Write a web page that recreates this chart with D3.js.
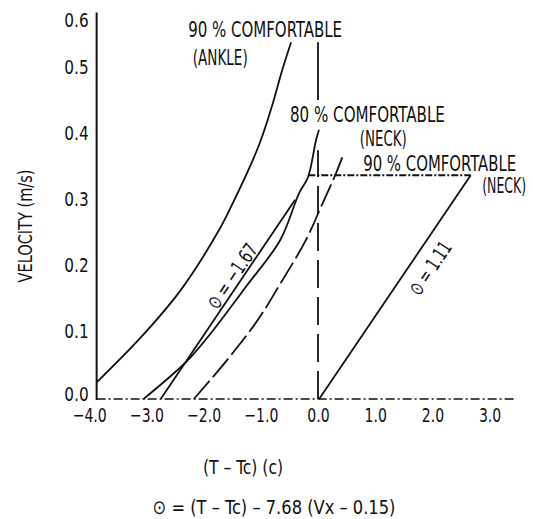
<!DOCTYPE html>
<html lang="en">
<head>
<meta charset="utf-8">
<title>Comfort Zone - Velocity vs Temperature</title>
<script src="https://d3js.org/d3.v7.min.js"></script>
<style>
  body {
    margin: 0;
    background: #fff;
  }
  svg text {
    font-family: "Liberation Sans Narrow", "DejaVu Sans Condensed", "Roboto Condensed", sans-serif;
    fill: #111;
  }
  .curve {
    fill: none;
    stroke: #111;
    stroke-width: 1.8;
  }
</style>
</head>
<body>
<div id="chart"></div>
<script>
// tick values
var xTicks = [-4, -3, -2, -1, 0, 1, 2, 3];
var yTicks = [0, 0.1, 0.2, 0.3, 0.4, 0.5, 0.6];

// curves, [T - Tc, velocity]
var ankle90 = [[-3.86, 0.026], [-3.09, 0.094], [-2.40, 0.165], [-1.73, 0.256], [-1.50, 0.295],
               [-1.14, 0.362], [-1.00, 0.392], [-0.80, 0.445], [-0.62, 0.500], [-0.47, 0.557]];
var neck80 = [[-3.05, 0.0], [-2.52, 0.039], [-2.22, 0.064], [-1.87, 0.100], [-1.26, 0.170],
              [-0.66, 0.241], [-0.33, 0.312], [-0.175, 0.336], [-0.035, 0.392], [0.017, 0.408]];
var neck90 = [[-2.17, 0.0], [-1.59, 0.059], [-1.05, 0.120], [-0.65, 0.176], [-0.21, 0.241],
              [0.052, 0.291], [0.315, 0.342], [0.455, 0.373]];
var thetaLow = [[-2.75, 0.0], [-0.40, 0.302]];    // theta = -1.67
var thetaHigh = [[0.02, 0.0], [2.67, 0.339]];     // theta = 1.11
var topLimit = [[-0.17, 0.339], [2.67, 0.339]];
var zeroLine = [[0, 0.0], [0, 0.377]];
var zeroLineTop = [[0, 0.453], [0, 0.557]];

var width = 533, height = 519;
var xMin = -3.87, xMax = 3.44, yTop = 0.62;

var svg = d3.select("#chart").append("svg")
  .attr("width", width)
  .attr("height", height);

var x = d3.scaleLinear()
  .domain([-4, 3.5])
  .range([89.2, 518.2]);

// the scan squeezes the 0.5 - 0.6 interval
var y = d3.scaleLinear()
  .domain([0, 0.5, 0.6])
  .range([399, 69, 22]);

var line = d3.line()
  .x(function(d) { return x(d[0]); })
  .y(function(d) { return y(d[1]); });

var smooth = d3.line()
  .curve(d3.curveCatmullRom)
  .x(function(d) { return x(d[0]); })
  .y(function(d) { return y(d[1]); });

// squeeze text to look like the condensed lettering of the scan
function condense(sel, k) {
  sel.each(function() {
    var w = this.getComputedTextLength();
    d3.select(this).attr("textLength", w * k).attr("lengthAdjust", "spacingAndGlyphs");
  });
}
// place a text at px,py (optionally rotated) and squeeze it to width w
function placeText(txt, px, py, w, size, anchor, angle) {
  var el = svg.append("text")
    .attr("text-anchor", anchor || "start")
    .style("font-size", size + "px")
    .text(txt);
  if (angle) el.attr("dy", "0.35em");
  var k = w / el.node().getComputedTextLength();
  el.attr("transform", "translate(" + px + "," + py + ")" +
    (angle ? " rotate(" + angle + ")" : "") + " scale(" + k + ",1)");
  return el;
}

// axes
var xAxis = svg.append("g")
  .attr("transform", "translate(0," + y(0) + ")")
  .call(d3.axisBottom(x).tickValues(xTicks).tickSize(0).tickPadding(9).tickFormat(d3.format(".1f")));
xAxis.select(".domain").remove();
xAxis.selectAll("text").style("font-size", "20px");
condense(xAxis.selectAll("text"), 0.78);

var yAxis = svg.append("g")
  .attr("transform", "translate(" + x(xMin) + ",0)")
  .call(d3.axisLeft(y).tickValues(yTicks).tickSize(0).tickPadding(8).tickFormat(d3.format(".1f")));
yAxis.select(".domain").remove();
yAxis.selectAll("text").style("font-size", "20px")
  .attr("dy", function(d) { return d === 0 ? "0.05em" : "0.2em"; });
condense(yAxis.selectAll("text"), 0.85);

svg.append("line")
  .attr("x1", x(xMin)).attr("x2", x(xMin))
  .attr("y1", y(0) + 1).attr("y2", y(yTop))
  .attr("stroke", "#111").attr("stroke-width", 2);

svg.append("line")
  .attr("x1", x(xMin)).attr("x2", x(xMax))
  .attr("y1", y(0)).attr("y2", y(0))
  .attr("stroke", "#111").attr("stroke-width", 1.6)
  .attr("stroke-dasharray", "9,3,2,3");

// reference lines
svg.append("path").datum(zeroLine).attr("class", "curve").attr("d", line)
  .attr("stroke-dasharray", "28,9");
svg.append("path").datum(zeroLineTop).attr("class", "curve").attr("d", line);
svg.append("path").datum(topLimit).attr("class", "curve").attr("d", line)
  .attr("stroke-width", 1.3).attr("stroke-dasharray", "7,2,2,2");

// curves
svg.append("path").datum(ankle90).attr("class", "curve").attr("d", smooth);
svg.append("path").datum(neck80).attr("class", "curve").attr("d", smooth);
svg.append("path").datum(neck90).attr("class", "curve").attr("d", smooth)
  .attr("stroke-dasharray", "24,5");
svg.append("path").datum(thetaLow).attr("class", "curve").attr("d", line);
svg.append("path").datum(thetaHigh).attr("class", "curve").attr("d", line);

// curve labels, anchored in data units
function label(txt, t, v, w) {
  return placeText(txt, x(t), y(v), w, 21);
}
label("90 % COMFORTABLE", -2.27, 0.568, 154);
label("(ANKLE)", -2.19, 0.5085, 55);
label("80 % COMFORTABLE", -0.49, 0.419, 155);
label("(NECK)", 0.73, 0.384, 47);
label("90 % COMFORTABLE", 0.79, 0.345, 153);
label("(NECK)", 2.87, 0.312, 44);

placeText("\u2299 = \u22121.67", x(-1.50), y(0.186), 74, 20, "middle", -56);
placeText("\u2299 = 1.11", x(1.96), y(0.198), 60, 20, "middle", -56);

// axis titles
placeText("VELOCITY (m/s)", 32, 226, 113, 20, "middle", -90).attr("dy", null);
placeText("(T \u2013 Tc) (c)", 243, 474, 80, 20, "middle");
placeText("\u2299 = (T \u2013 Tc) \u2013 7.68 (Vx \u2013 0.15)", 274, 514, 243, 20, "middle");
</script>
</body>
</html>
